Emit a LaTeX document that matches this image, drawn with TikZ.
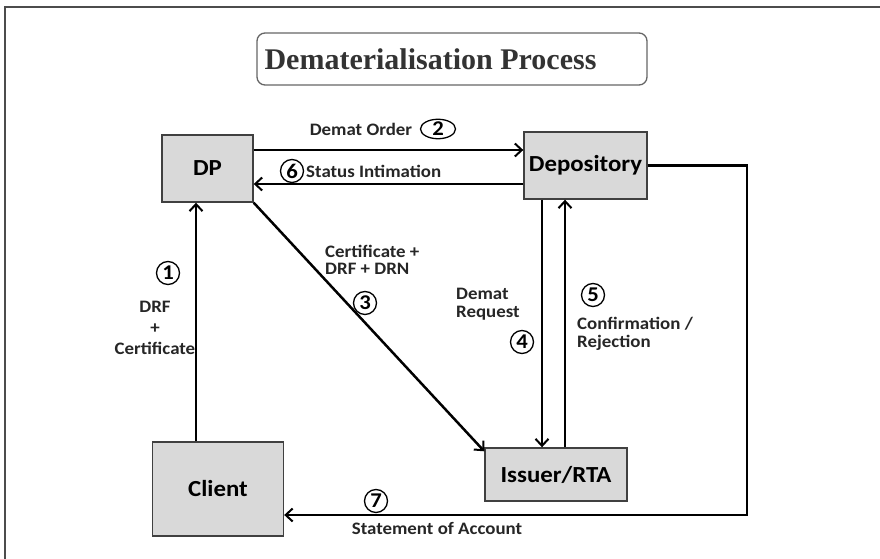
\documentclass[tikz,border=0pt]{standalone}
\usepackage{fontspec}
\setmainfont{Carlito}[FakeStretch=1.08]
\newfontfamily\titlefont{Liberation Serif}
\usetikzlibrary{arrows.meta, shapes.geometric}

\tikzset{
  box/.style={draw=black!75, fill=black!15, line width=1.4pt, inner sep=0pt, font=\fontsize{23}{26}\selectfont\bfseries},
  flow/.style={line width=2.5pt, -{Straight Barb[length=7pt,width=13pt,line width=2pt]}},
  lbl/.style={font=\fontsize{17.5}{17.5}\selectfont\bfseries, text=black!85, align=left, inner sep=0pt},
  num/.style={circle, draw, line width=1.3pt, inner sep=0pt, minimum size=23pt, font=\fontsize{21}{21}\selectfont\bfseries},
}

\begin{document}
\begin{tikzpicture}[x=1pt, y=-1pt]
		\useasboundingbox (0,0) rectangle (880,559);
		% frame
		\draw[line width=1.8pt, black!70] (880,7) -- (5,7) -- (5,559);
		% title
		\node[draw=black!60, rounded corners=8pt, line width=1.3pt, minimum width=390pt, minimum height=52pt] (title) at (452,59) {};
		\node[anchor=west, inner sep=0pt, text=black!80, font=\titlefont\fontsize{30}{31}\selectfont\bfseries] (titlelbl) at ([xshift=8pt]title.west) {Dematerialisation Process};
		% boxes
		\node[box, minimum width=91pt, minimum height=67pt] (DP) at (207.5,168.5) {DP};
		\node[box, minimum width=123pt, minimum height=67pt] (Depository) at (585.5,165.5) {Depository};
		\node[box, minimum width=131pt, minimum height=94pt] (Client) at (218,489) {Client};
		\node[box, minimum width=142pt, minimum height=53pt] (Issuer) at (556,474.5) {Issuer/RTA};
		% arrows
		\draw[flow] ([yshift=18.5pt]DP.east) -- ([yshift=18.5pt]DP.east -| Depository.west);
		\draw[flow] ([yshift=-15.5pt]DP.east -| Depository.west) -- ([yshift=-15.5pt]DP.east);
		\draw[flow] ([xshift=-22pt]Client.north) -- ([xshift=-22pt]Client.north |- DP.south);
		\draw[flow] (DP.south east) -- ([yshift=-4pt]Issuer.north west);
		\draw[flow] ([xshift=-43.5pt]Depository.south) -- ([xshift=-43.5pt]Depository.south |- Issuer.north);
		\draw[flow] ([xshift=-20.5pt]Depository.south |- Issuer.north) -- ([xshift=-20.5pt]Depository.south);
		\coordinate (elbow) at (747,515);
		\draw[flow] (Depository.east) -| (elbow) -- (elbow -| Client.east);
		% labels
		\node[lbl] (order) at (361,129) {Demat Order};
		\node[num, ellipse, minimum width=35pt, minimum height=19pt] (n2) at (438,129) {2};
		\node[num] (n6) at (292,171) {6};
		\node[lbl, anchor=west] (status) at (306,171) {Status Intimation};
		\node[num] (n1) at (168,273) {1};
		\node[lbl, align=center, font=\fontsize{17.5}{21}\selectfont\bfseries] (drf) at (155,328) {DRF\\+\\Certificate};
		\node[lbl, anchor=west] (cert) at (325,260) {Certificate +\\DRF + DRN};
		\node[num] (n3) at (365,303) {3};
		\node[lbl, anchor=west] (request) at (456,304) {Demat\\Request};
		\node[num] (n4) at (522,342) {4};
		\node[num] (n5) at (593,295) {5};
		\node[lbl, anchor=west] (confirm) at (577,334) {Confirmation /\\Rejection};
		\node[num] (n7) at (376,501) {7};
		\node[lbl] (statement) at (437,528) {Statement of Account};
	\end{tikzpicture}
\end{document}
